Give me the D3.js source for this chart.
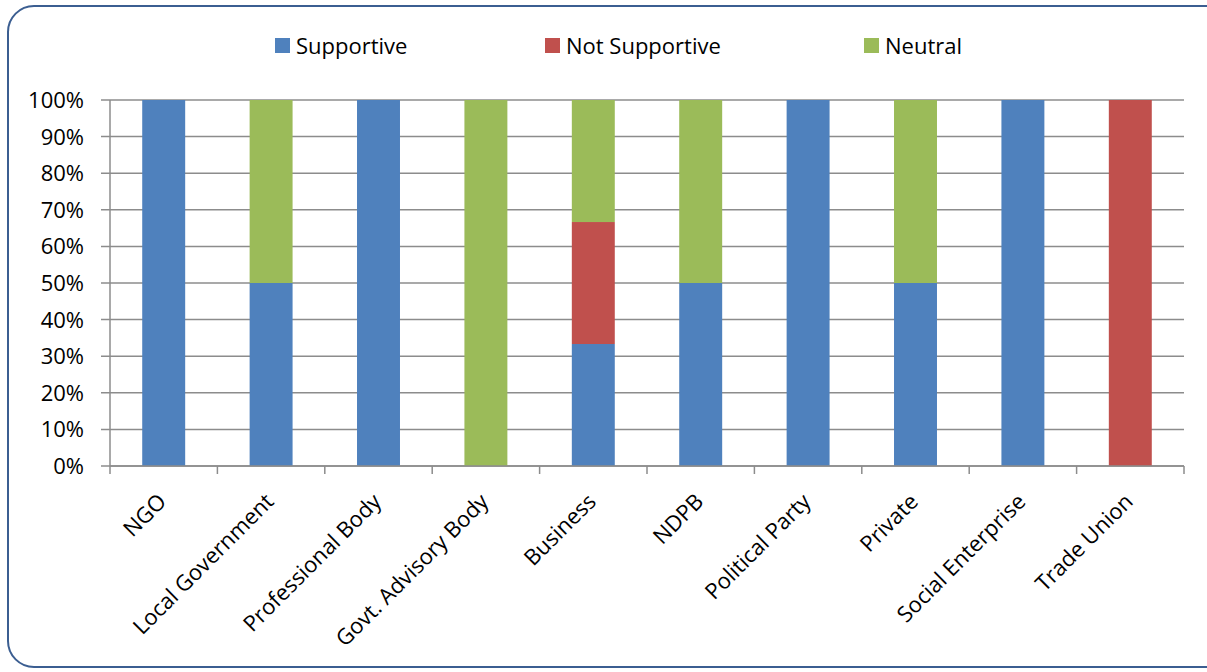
<!DOCTYPE html>
<html>
<head>
<meta charset="utf-8">
<script src="https://cdn.jsdelivr.net/npm/d3@7"></script>
<style>
  body { margin: 0; background: #fff; }
  text { font-family: "Open Sans", sans-serif; fill: #000; }
</style>
</head>
<body>
<div id="chart"></div>
<script>
// data
const categories = ["NGO", "Local Government", "Professional Body", "Govt. Advisory Body",
  "Business", "NDPB", "Political Party", "Private", "Social Enterprise", "Trade Union"];
const seriesNames = ["Supportive", "Not Supportive", "Neutral"];
const supportive    = [100, 50, 100, 0, 33.33, 50, 100, 50, 100, 0];
const notSupportive = [0, 0, 0, 0, 33.33, 0, 0, 0, 0, 100];
const neutral       = [0, 50, 0, 100, 33.34, 50, 0, 50, 0, 0];
const yTicks = [0, 10, 20, 30, 40, 50, 60, 70, 80, 90, 100];

const colors = ["#4F81BD", "#C0504D", "#9BBB59"];

const width = 1207, height = 672;
const margin = { top: 100, left: 110, right: 23, bottom: 206 };

const svg = d3.select("#chart").append("svg")
  .attr("width", width)
  .attr("height", height);

// rounded frame
svg.append("rect")
  .attr("x", 8).attr("y", 6)
  .attr("width", 1230).attr("height", 661)
  .attr("rx", 26).attr("ry", 26)
  .attr("fill", "none")
  .attr("stroke", "#3B5E91")
  .attr("stroke-width", 2);

const x = d3.scaleBand()
  .domain(categories)
  .range([margin.left, width - margin.right])
  .paddingInner(0.6)
  .paddingOuter(0.3);

const y = d3.scaleLinear()
  .domain([0, 100])
  .range([height - margin.bottom, margin.top]);

// gridlines
svg.append("g")
  .selectAll("line")
  .data(yTicks)
  .join("line")
  .attr("x1", margin.left - 9)
  .attr("x2", width - margin.right)
  .attr("y1", d => y(d))
  .attr("y2", d => y(d))
  .attr("stroke", "#8C8C8C")
  .attr("stroke-width", 1.5);

// y labels
svg.append("g")
  .selectAll("text")
  .data(yTicks)
  .join("text")
  .attr("x", 84)
  .attr("y", d => y(d))
  .attr("dy", "0.36em")
  .attr("text-anchor", "end")
  .style("font-size", "22px")
  .text(d => d + "%");

// stacked bars
const rows = categories.map((c, i) => ({
  cat: c, s0: supportive[i], s1: notSupportive[i], s2: neutral[i]
}));
const stack = d3.stack().keys(["s0", "s1", "s2"])(rows);

svg.append("g")
  .selectAll("g")
  .data(stack)
  .join("g")
  .attr("fill", (d, i) => colors[i])
  .selectAll("rect")
  .data(d => d)
  .join("rect")
  .attr("x", d => x(d.data.cat))
  .attr("width", x.bandwidth())
  .attr("y", d => y(d[1]))
  .attr("height", d => y(d[0]) - y(d[1]));

// axes lines
svg.append("line")
  .attr("x1", margin.left).attr("x2", margin.left)
  .attr("y1", y(100)).attr("y2", y(0))
  .attr("stroke", "#8C8C8C").attr("stroke-width", 1.5);

const bounds = d3.range(categories.length + 1).map(i => margin.left + i * (width - margin.right - margin.left) / categories.length);
svg.append("g")
  .selectAll("line")
  .data(bounds)
  .join("line")
  .attr("x1", d => d).attr("x2", d => d)
  .attr("y1", y(0)).attr("y2", y(0) + 8)
  .attr("stroke", "#8C8C8C").attr("stroke-width", 1.5);

svg.append("line")
  .attr("x1", margin.left).attr("x2", width - margin.right)
  .attr("y1", y(0)).attr("y2", y(0))
  .attr("stroke", "#8C8C8C").attr("stroke-width", 1.5);

// category labels, rotated
svg.append("g")
  .selectAll("text")
  .data(categories)
  .join("text")
  .attr("transform", d => `translate(${x(d) + x.bandwidth() / 2 + 4}, ${y(0) + 37}) rotate(-45)`)
  .attr("text-anchor", "end")
  .style("font-size", "22px")
  .text(d => d);

// legend
const legendX = [275, 545, 864];
const legend = svg.append("g")
  .selectAll("g")
  .data(seriesNames)
  .join("g")
  .attr("transform", (d, i) => `translate(${legendX[i]}, 38)`);

legend.append("rect")
  .attr("width", 15).attr("height", 15)
  .attr("fill", (d, i) => colors[i]);

legend.append("text")
  .attr("x", 21).attr("y", 8)
  .attr("dy", "0.35em")
  .style("font-size", "22px")
  .text(d => d);
</script>
</body>
</html>
